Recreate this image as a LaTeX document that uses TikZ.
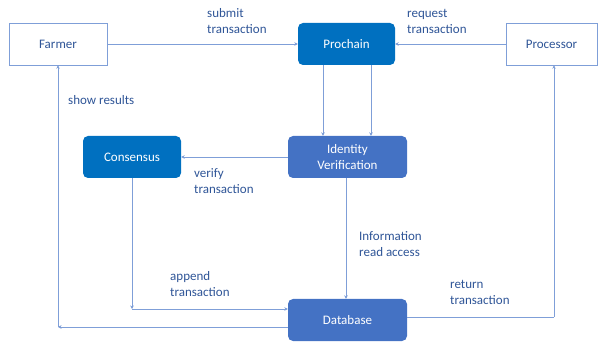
\documentclass[tikz,border=0pt]{standalone}
\usepackage{fontspec}
\setmainfont{Carlito}
\usetikzlibrary{arrows.meta}
\definecolor{txt}{HTML}{2F5597}
\definecolor{ln}{HTML}{7F9FD8}
\definecolor{dark}{HTML}{0070C0}
\definecolor{mid}{HTML}{4472C4}
\begin{document}
\begin{tikzpicture}[x=1pt,y=-1pt,
  font=\fontsize{13}{16}\selectfont,
  wbox/.style={draw=ln, line width=0.6pt, fill=white, text=txt, inner sep=0pt},
  dbox/.style={draw=none, fill=dark, rounded corners=5pt, text=white, inner sep=0pt},
  mbox/.style={draw=none, fill=mid, rounded corners=5pt, text=white, inner sep=0pt, align=center},
  conn/.style={draw=ln, line width=0.6pt, -{Stealth[length=3.5pt,width=3.5pt,fill=mid]}},
  plain/.style={draw=ln, line width=0.6pt},
  lbl/.style={text=txt, align=left, anchor=north west, inner sep=0pt}]
\useasboundingbox (0,0) rectangle (598,342);
\node[wbox, minimum width=98pt, minimum height=42pt] (farmer) at (58,44) {Farmer};
\node[dbox, minimum width=97pt, minimum height=42pt] (prochain) at (346.5,44) {Prochain};
\node[wbox, minimum width=91pt, minimum height=42pt] (processor) at (551.5,44) {Processor};
\node[dbox, minimum width=98pt, minimum height=42pt] (consensus) at (132,157) {Consensus};
\node[mbox, minimum width=119pt, minimum height=42pt] (identity) at (347.5,157) {Identity\\Verification};
\node[mbox, minimum width=119pt, minimum height=42pt] (database) at (347.5,320) {Database};

\coordinate (cA) at (132,309);
\coordinate (fA) at (58,327);
\coordinate (pA) at (554,317);

\draw[conn] (farmer.east) -- (prochain.west);
\draw[conn] (processor.west) -- (prochain.west -| prochain.east);
\draw[conn] (prochain.south -| 323,0) -- (identity.north -| 323,0);
\draw[conn] (prochain.south -| 371,0) -- (identity.north -| 371,0);
\draw[conn] (identity.west) -- (consensus.east);
\draw[conn] (consensus.south) -- (cA);
\draw[conn] (cA) -- (database.west |- cA);
\draw[conn] (identity.south -| 346,0) -- (database.north -| 346,0);
\draw[conn] (database.west |- fA) -- (fA);
\draw[conn] (fA) -- (farmer.south -| fA);
\draw[plain] (database.east |- pA) -- (pA);
\draw[conn] (pA) -- (processor.south -| pA);

\node[lbl] (l1) at (207,8) {submit\\transaction};
\node[lbl] (l2) at (407,9) {request\\transaction};
\node[lbl] (l3) at (68,95) {show results};
\node[lbl] (l4) at (194,168) {verify\\transaction};
\node[lbl] (l5) at (170,271) {append\\transaction};
\node[lbl] (l6) at (359,231) {Information\\read access};
\node[lbl] (l7) at (450,280) {return\\transaction};
\end{tikzpicture}
\end{document}
